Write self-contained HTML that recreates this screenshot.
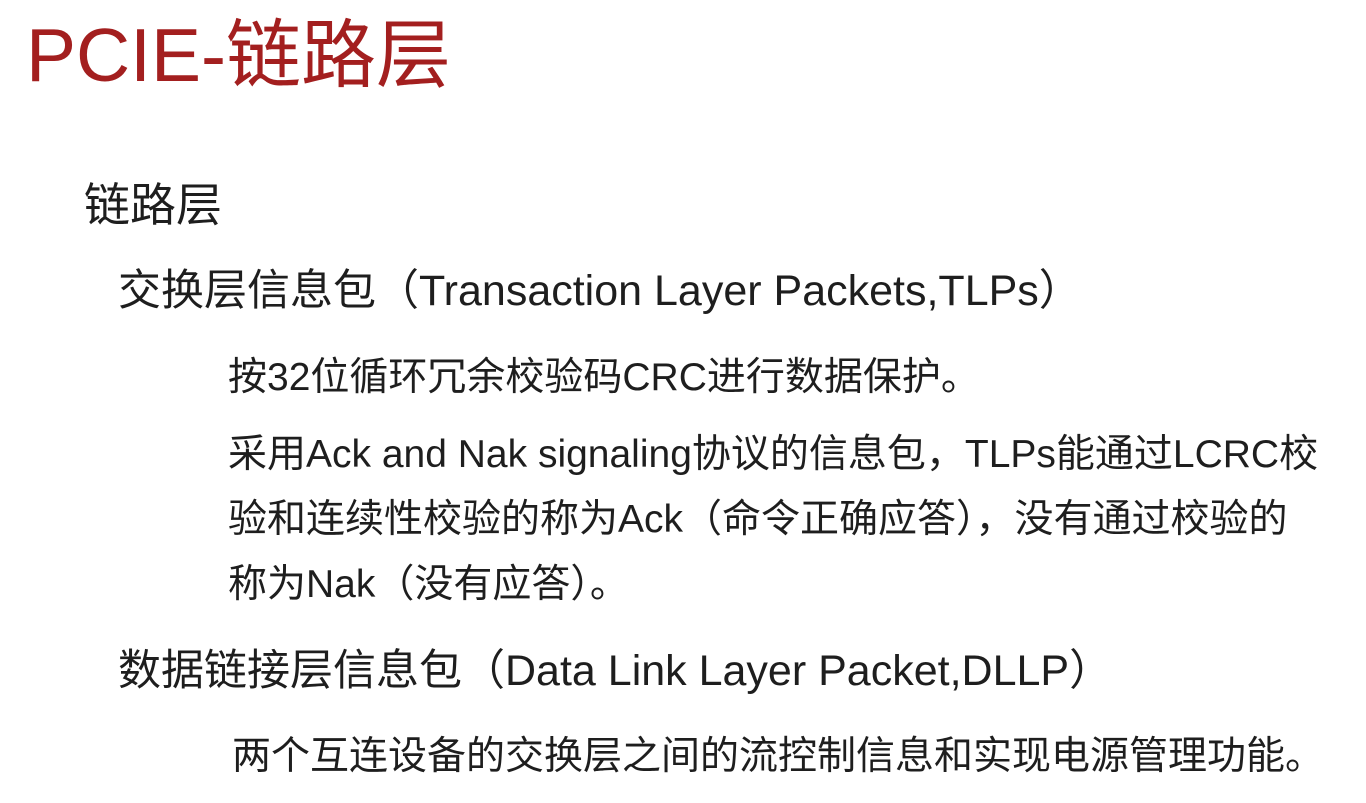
<!DOCTYPE html>
<html><head><meta charset="utf-8"><style>
html,body{margin:0;padding:0;background:#fff;}
body{width:1366px;height:803px;position:relative;overflow:hidden;font-family:"Liberation Sans","Noto Sans CJK SC",sans-serif;color:#1e1e1e;font-feature-settings:"palt" 0;}
div{position:absolute;white-space:nowrap;line-height:1;}
.t{left:26px;top:18px;font-size:75px;color:#a31f1f;}
.l1{left:84px;top:182px;font-size:46px;}
.l2{left:118px;top:270px;font-size:43px;}
.l3{left:228px;font-size:39px;}
</style></head><body>
<div class="t">PCIE-链路层</div>
<div class="l1">链路层</div>
<div class="l2">交换层信息包（Transaction Layer Packets,TLPs）</div>
<div class="l3" style="top:358px">按32位循环冗余校验码CRC进行数据保护。</div>
<div class="l3" style="top:435px">采用Ack and Nak signaling协议的信息包，TLPs能通过LCRC校</div>
<div class="l3" style="top:500px">验和连续性校验的称为Ack（命令正确应答），没有通过校验的</div>
<div class="l3" style="top:565px">称为Nak（没有应答）。</div>
<div class="l2" style="top:650px">数据链接层信息包（Data Link Layer Packet,DLLP）</div>
<div class="l3" style="top:737px;left:232px">两个互连设备的交换层之间的流控制信息和实现电源管理功能。</div>
</body></html>
